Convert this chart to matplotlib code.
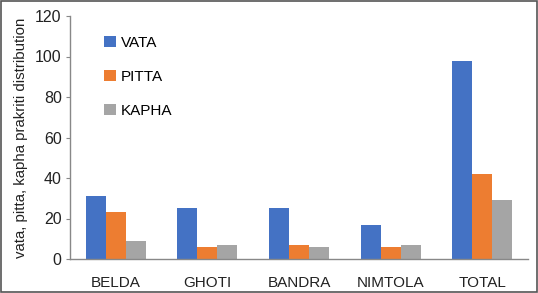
import matplotlib
matplotlib.use("Agg")
import matplotlib.pyplot as plt
import numpy as np
from matplotlib.patches import Rectangle

categories = ["BELDA", "GHOTI", "BANDRA", "NIMTOLA", "TOTAL"]
vata = [31, 25, 25, 17, 98]
pitta = [23, 6, 7, 6, 42]
kapha = [9, 7, 6, 7, 29]
series_names = ["VATA", "PITTA", "KAPHA"]
colors = ["#4472C4", "#ED7D31", "#A5A5A5"]
yticks = [0, 20, 40, 60, 80, 100, 120]

plt.rcParams['font.family'] = ['Liberation Sans', 'DejaVu Sans']

fig = plt.figure(figsize=(5.38, 2.93), dpi=100)
ax = fig.add_axes([70/538, 1-259/293, (528-70)/538, (259-16)/293])

x = np.arange(len(categories))
w = 0.218
handles = []
for i, (vals, name, c) in enumerate(zip([vata, pitta, kapha], series_names, colors)):
    h = ax.bar(x + (i-1)*w, vals, width=w, color=c, label=name)
    handles.append(h)

ax.set_xlim(-0.5, len(categories)-0.5)
ax.set_ylim(0, 120)
ax.set_yticks(yticks)
ax.set_xticks(x)
ax.set_xticklabels(categories, fontsize=11, color="#222222")
ax.tick_params(axis='y', labelsize=11.5, length=3, color="#888888", labelcolor="#222222", pad=3)
ax.tick_params(axis='x', length=0, pad=12)
for s in ["top", "right"]:
    ax.spines[s].set_visible(False)
for s in ["left", "bottom"]:
    ax.spines[s].set_color("#888888")
    ax.spines[s].set_linewidth(1)
ax.set_ylabel("vata, pitta, kapha prakriti distribution", fontsize=10.8, color="#222222", labelpad=5)

leg = ax.legend(handles=handles, loc="upper left", bbox_to_anchor=(0.045, 0.975), frameon=False,
                fontsize=11, handlelength=0.75, handleheight=0.75, labelspacing=1.3,
                handletextpad=0.35)

fig.patches.append(Rectangle((0.001, 0.002), 0.997, 0.995, transform=fig.transFigure,
                             fill=False, edgecolor="#555555", linewidth=1.2))

fig.savefig("out.png", dpi=100)
